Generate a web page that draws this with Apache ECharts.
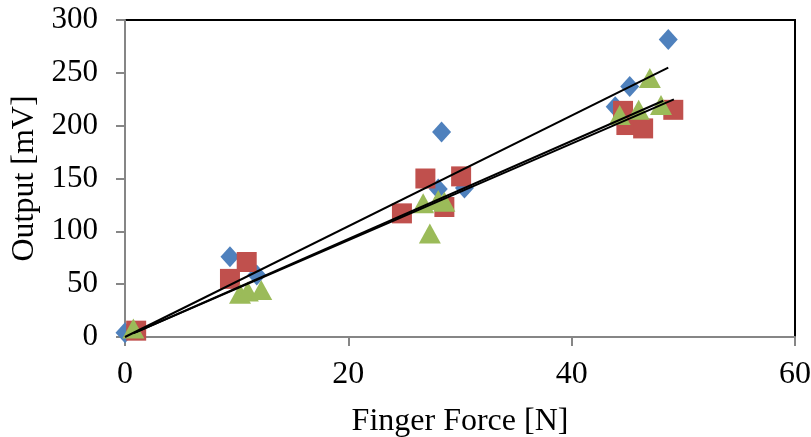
<!DOCTYPE html>
<html>
<head>
<meta charset="utf-8">
<script src="https://cdn.jsdelivr.net/npm/echarts@6/dist/echarts.min.js"></script>
<style>html,body{margin:0;padding:0;background:#fff}#c{width:811px;height:437px}</style>
</head>
<body>
<div id="c"></div>
<script>
var xTicks = [0, 20, 40, 60];
var yTicks = [0, 50, 100, 150, 200, 250, 300];
var blueX = [0, 9.4, 11.8, 28.35, 28.05, 30.4, 43.9, 45.2, 48.65];
var blueY = [4, 76, 58.6, 194, 140, 141, 218, 237, 281.6];
var redX = [1.0, 9.4, 10.9, 24.8, 26.9, 28.6, 30.1, 44.6, 44.9, 46.4, 49.1];
var redY = [6, 55, 71, 117, 150, 123, 152, 214, 200.6, 197.4, 215];
var greenX = [0.75, 10.3, 11.0, 12.2, 26.7, 27.3, 28.05, 28.6, 44.3, 46, 47, 48];
var greenY = [8, 41, 43, 44.5, 126.5, 98, 129.6, 128, 210, 215, 245, 219.5];
var trendBlueX = [0, 48.65], trendBlueY = [0, 255];
var trendRedX = [1.0, 49.15], trendRedY = [4.6, 224.9];
var trendGreenX = [0.75, 48.2], trendGreenY = [3.5, 223.6];

function pts(xs, ys) { return xs.map(function (x, i) { return [x, ys[i]]; }); }
var font = 'Liberation Serif';
var chart = echarts.init(document.getElementById('c'));
function trend(xs, ys) {
  return { type: 'line', data: pts(xs, ys), symbol: 'none', z: 10,
    lineStyle: { color: '#000', width: 2 }, silent: true, animation: false };
}
chart.setOption({
  animation: false,
  grid: { left: 125, right: 16, top: 20, bottom: 100, containLabel: false, outerBoundsMode: 'none',
    show: true, borderColor: '#000', borderWidth: 2, backgroundColor: 'transparent' },
  xAxis: {
    type: 'value', min: xTicks[0], max: xTicks[xTicks.length - 1], interval: 20,
    name: 'Finger Force [N]', nameLocation: 'middle', nameGap: 69,
    nameTextStyle: { fontFamily: font, fontSize: 32, color: '#000' },
    axisLine: { show: true, lineStyle: { color: '#868686', width: 2 } },
    axisTick: { show: true, length: 9, lineStyle: { color: '#868686', width: 2 } },
    axisLabel: { fontFamily: font, fontSize: 32, color: '#000', margin: 22 },
    splitLine: { show: false }
  },
  yAxis: {
    type: 'value', min: yTicks[0], max: yTicks[yTicks.length - 1], interval: 50,
    name: 'Output [mV]', nameLocation: 'middle', nameGap: 84,
    nameTextStyle: { fontFamily: font, fontSize: 32, color: '#000' },
    axisLine: { show: true, lineStyle: { color: '#868686', width: 2 } },
    axisTick: { show: true, length: 9, lineStyle: { color: '#868686', width: 2 } },
    axisLabel: { fontFamily: font, fontSize: 31, color: '#000', margin: 27 },
    splitLine: { show: false }
  },
  series: [
    { type: 'scatter', data: pts(blueX, blueY), symbol: 'diamond', symbolSize: [19, 21], itemStyle: { color: '#4F81BD', opacity: 1 }, z: 3 },
    { type: 'scatter', data: pts(redX, redY), symbol: 'rect', symbolSize: 20, itemStyle: { color: '#C0504D', opacity: 1 }, z: 4 },
    { type: 'scatter', data: pts(greenX, greenY), symbol: 'triangle', symbolSize: [22, 20], itemStyle: { color: '#9BBB59', opacity: 1 }, z: 5 },
    trend(trendBlueX, trendBlueY),
    trend(trendRedX, trendRedY),
    trend(trendGreenX, trendGreenY)
  ]
});
</script>
</body>
</html>
